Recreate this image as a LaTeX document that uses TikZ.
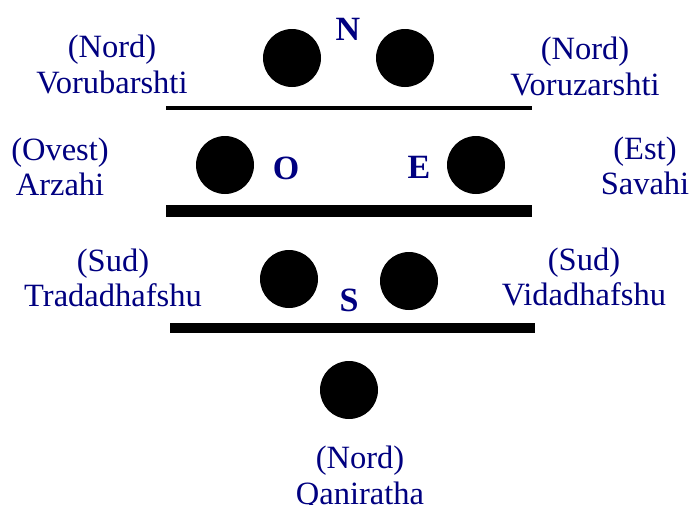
\documentclass[tikz,border=0pt]{standalone}
\usepackage{fontspec}
\setmainfont{Liberation Serif}
\definecolor{avNavy}{HTML}{000080}

\begin{document}
\begin{tikzpicture}[x=1pt, y=-1pt,
  dot/.style={circle, fill=black, minimum size=58pt, inner sep=0pt},
  lbl/.style={text=avNavy, font=\fontsize{32.5}{38}\selectfont, anchor=base, inner sep=0pt},
  dirl/.style={text=avNavy, font=\fontsize{34}{40}\selectfont\bfseries, inner sep=0pt},
]
\useasboundingbox (0,0) rectangle (691,504);

% ---- top row (North) ----
\node[dot] (nl) at (292,58) {};
\node[dot] (nr) at (405,58) {};
\node[dirl] (ndir) at (348,29) {N};
\draw[line width=4pt] (166,108) -- (532,108);
\node[lbl] (nwdir) at (112,57) {(Nord)};
\node[lbl] (nwname) at (112,93) {Vorubarshti};
\node[lbl] (nedir) at (585,59) {(Nord)};
\node[lbl] (nename) at (585,95) {Voruzarshti};

% ---- middle row (West / East) ----
\node[dot] (wl) at (225,165) {};
\node[dot] (er) at (476,165) {};
\node[dirl] (wdir) at (286,168) {O};
\node[dirl] (edir) at (419,167) {E};
\draw[line width=12pt] (166,211) -- (532,211);
\node[lbl] (wwdir) at (60,160) {(Ovest)};
\node[lbl] (wwname) at (60,195) {Arzahi};
\node[lbl] (eedir) at (645,159) {(Est)};
\node[lbl] (eename) at (645,194) {Savahi};

% ---- lower row (South) ----
\node[dot] (sl) at (289,279) {};
\node[dot] (sr) at (409,281) {};
\node[dirl] (sdir) at (349,300) {S};
\draw[line width=10pt] (170,328) -- (535,328);
\node[lbl] (swdir) at (113,271) {(Sud)};
\node[lbl] (swname) at (113,306) {Tradadhafshu};
\node[lbl] (sedir) at (584,270) {(Sud)};
\node[lbl] (sename) at (584,305) {Vidadhafshu};

% ---- centre ----
\node[dot] (cdot) at (349,390) {};
\node[lbl] (cdir) at (360,468) {(Nord)};
\node[lbl] (cname) at (360,504) {Qaniratha};
\end{tikzpicture}
\end{document}
